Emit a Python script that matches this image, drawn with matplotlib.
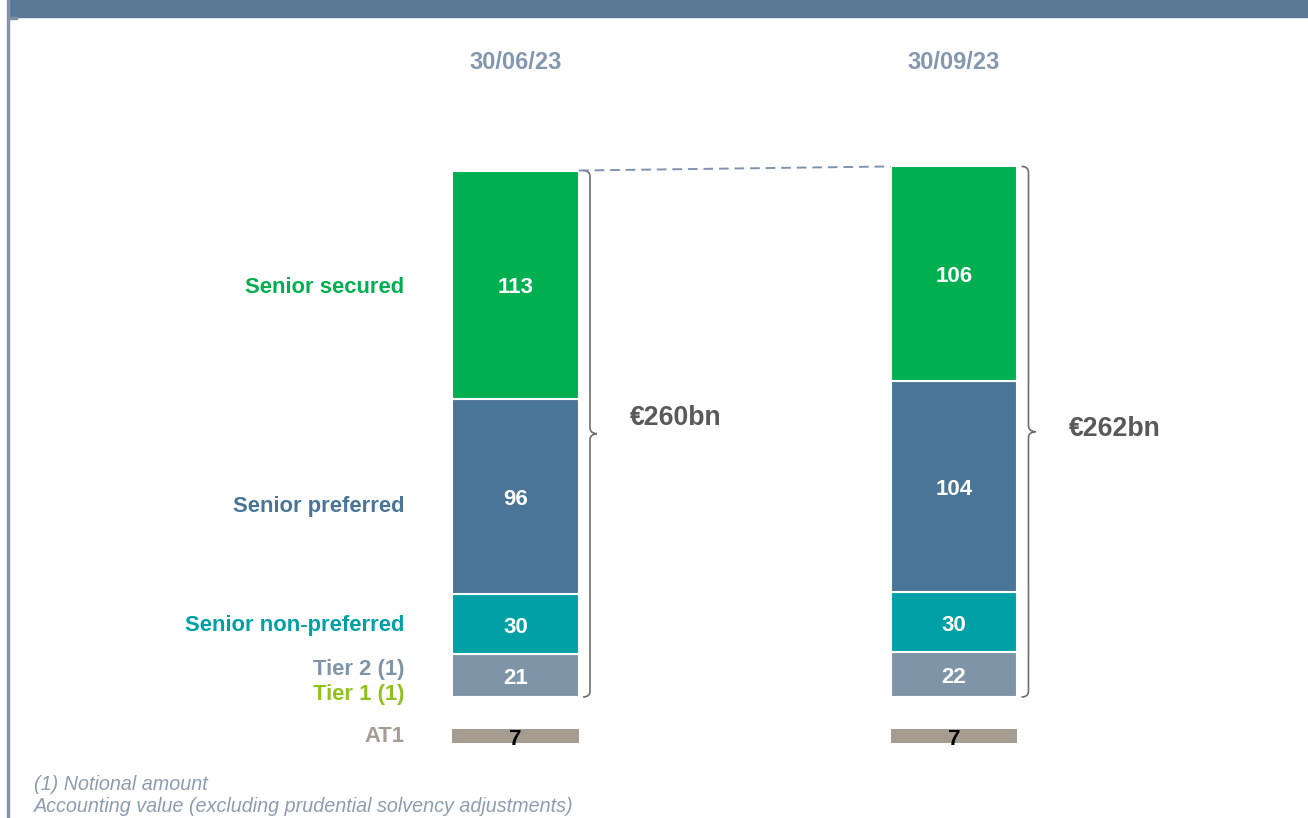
import matplotlib.pyplot as plt
from matplotlib.path import Path
from matplotlib.patches import PathPatch, Rectangle

# --- dane ---
dates = ['30/06/23', '30/09/23']
categories = ['Tier 2 (1)', 'Senior non-preferred', 'Senior preferred', 'Senior secured']
tier2 = [21, 22]
senior_non_preferred = [30, 30]
senior_preferred = [96, 104]
senior_secured = [113, 106]
at1 = [7, 7]
totals = ['€260bn', '€262bn']

# --- kolory ---
C_SECURED = '#00B050'
C_PREFERRED = '#4A7597'
C_NON_PREF = '#00A0A6'
C_TIER2 = '#8094A8'
C_TIER1 = '#92C01F'
C_AT1 = '#A59C91'
C_HEAD = '#8497B0'
C_NOTE = '#8D9DB0'

plt.rcParams['font.family'] = ['Liberation Sans', 'DejaVu Sans']

fig = plt.figure(figsize=(13.08, 8.18), dpi=100)
ax = fig.add_axes([0, 0, 1, 1])
ax.set_xlim(-1.1756, 1.8073)
ax.set_ylim(-59.75, 344.2)
ax.axis('off')

x = [0, 1]
w = 0.2896
at1_base = -22.7

series = [tier2, senior_non_preferred, senior_preferred, senior_secured]
colors = [C_TIER2, C_NON_PREF, C_PREFERRED, C_SECURED]

bottoms = [0, 0]
centers = []
for vals, col in zip(series, colors):
    ax.bar(x, vals, w, bottom=bottoms, color=col, edgecolor='white', linewidth=1.5)
    mids = []
    for i, v in enumerate(vals):
        yc = bottoms[i] + v / 2
        mids.append(yc)
        ax.annotate(str(v), (x[i], yc), xytext=(0, -3), textcoords='offset pixels',
                    ha='center', va='center', color='white', fontsize=16, fontweight='bold')
    centers.append(mids)
    bottoms = [b + v for b, v in zip(bottoms, vals)]

# AT1 osobno pod słupkiem
ax.bar(x, at1, w, bottom=at1_base, color=C_AT1, linewidth=0)
for i, v in enumerate(at1):
    ax.annotate(str(v), (x[i], at1_base + v / 2), xytext=(0, -4), textcoords='offset pixels',
                ha='center', va='center', color='black', fontsize=16, fontweight='bold')

# etykiety kategorii po lewej stronie
lx = x[0] - w / 2
labels = [
    ('Senior secured', centers[3][0], -3, C_SECURED),
    ('Senior preferred', centers[2][0], -10, C_PREFERRED),
    ('Senior non-preferred', centers[1][0], -1, C_NON_PREF),
    ('Tier 2 (1)', centers[0][0], 6, C_TIER2),
    ('Tier 1 (1)', centers[0][0], -19, C_TIER1),
    ('AT1', at1_base + at1[0] / 2, -1, C_AT1),
]
for txt, yc, dy, col in labels:
    ax.annotate(txt, (lx, yc), xytext=(-48, dy), textcoords='offset pixels',
                ha='right', va='center', color=col, fontsize=15.8, fontweight='bold')

# daty nad słupkami
for i, d in enumerate(dates):
    ax.text(x[i], 313.5, d, ha='center', va='center', color=C_HEAD,
            fontsize=17, fontweight='bold')

# przerywana linia między wierzchołkami słupków
ax.plot([x[0] + w / 2, x[1] - w / 2], [bottoms[0], bottoms[1]], ls=(0, (5, 3)),
        color='#7F93AF', lw=1.4)


def brace(ax, x0, y0, y1, color='#6E6E6E'):
    # klamra: hak na górze i dole, szpic w połowie
    px = 1 / 438.5
    py = 1 / 2.025
    xa = x0 + 4 * px
    xv = x0 + 11 * px
    xt = x0 + 18 * px
    ym = (y0 + y1) / 2
    r = 6 * py
    verts = [
        (xa, y1), (xv, y1), (xv, y1 - r),
        (xv, ym + r),
        (xv, ym), (xt, ym), (xt, ym),
        (xt, ym), (xv, ym), (xv, ym - r),
        (xv, y0 + r),
        (xv, y0), (xa, y0),
    ]
    codes = [Path.MOVETO, Path.CURVE3, Path.CURVE3,
             Path.LINETO,
             Path.CURVE4, Path.CURVE4, Path.CURVE4,
             Path.CURVE4, Path.CURVE4, Path.CURVE4,
             Path.LINETO,
             Path.CURVE3, Path.CURVE3]
    ax.add_patch(PathPatch(Path(verts, codes), fill=False, color=color, lw=1.2))


total_dy = [16, 3]
for i in range(2):
    brace(ax, x[i] + w / 2, 0, bottoms[i])
    ax.annotate(totals[i], (x[i] + w / 2, bottoms[i] / 2), xytext=(97, total_dy[i]),
                textcoords='offset pixels', ha='center', va='center',
                color='#595959', fontsize=19.2, fontweight='bold')

# pasek nagłówka i linia po lewej
fig.patches.append(Rectangle((8.7 / 1308, 1 - 17 / 818), 1, 17 / 818,
                             transform=fig.transFigure, color='#5B7896', zorder=5))
fig.patches.append(Rectangle((8.7 / 1308, 1 - 19 / 818), 8.5 / 1308, 2 / 818,
                             transform=fig.transFigure, color='#7A8EA8', zorder=5))
fig.patches.append(Rectangle((7 / 1308, 0), 1.8 / 1308, 1,
                             transform=fig.transFigure, color='#7F93AB', zorder=5))

# przypisy
fig.text(34 / 1308, 1 - 784 / 818, '(1) Notional amount', ha='left', va='center',
         color=C_NOTE, fontsize=14.2, style='italic')
fig.text(34 / 1308, 1 - 807 / 818, 'Accounting value (excluding prudential solvency adjustments)',
         ha='left', va='center', color=C_NOTE, fontsize=14.2, style='italic')

fig.savefig('out.png', dpi=100)
